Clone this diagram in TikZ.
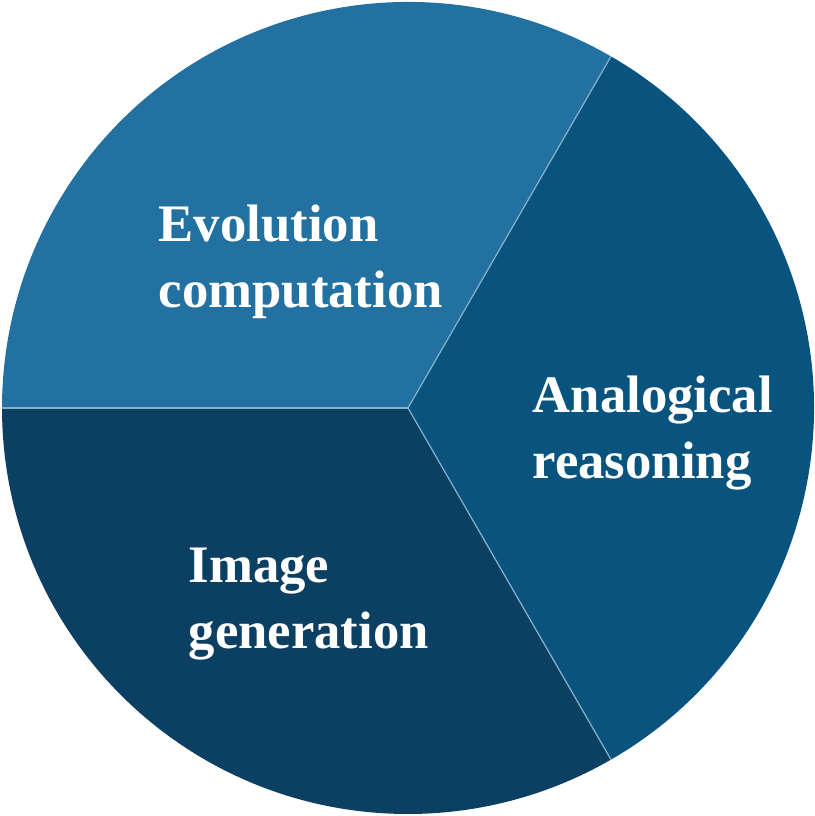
\documentclass[tikz,border=0pt]{standalone}
\usepackage{fontspec}
\setmainfont{Liberation Serif}
\usetikzlibrary{positioning,calc}
\definecolor{EvoBlue}{HTML}{2271A1}
\definecolor{AnaBlue}{HTML}{08547F}
\definecolor{ImgBlue}{HTML}{0C4062}

\begin{document}
\begin{tikzpicture}[
 divider/.style={draw=white!45!EvoBlue,line width=.35pt},
 lbl/.style={text=white,font=\fontsize{15}{18.5}\selectfont\bfseries,align=left,inner sep=0pt,anchor=base west}]
\useasboundingbox (0,0) rectangle (8.15,8.16);
\def\rad{4.06}
\coordinate (o) at (4.08,4.08);
\coordinate (a60) at ($(o)+(60:\rad)$);
\coordinate (a180) at ($(o)+(180:\rad)$);
\coordinate (a300) at ($(o)+(300:\rad)$);
% three equal slices
\fill[EvoBlue] (o) -- (a60) arc[start angle=60,end angle=180,radius=\rad] -- cycle;
\fill[ImgBlue] (o) -- (a180) arc[start angle=180,end angle=300,radius=\rad] -- cycle;
\fill[AnaBlue] (o) -- (a300) arc[start angle=-60,end angle=60,radius=\rad] -- cycle;
\draw[divider] (o) -- (a60);
\draw[divider] (o) -- (a180);
\draw[divider] (o) -- (a300);
\node[lbl] (evo) at (1.58,5.09) {Evolution\\computation};
\node[lbl] (ana) at (5.32,3.38) {Analogical\\reasoning};
\node[lbl] (img) at (1.88,1.68) {Image\\generation};
\end{tikzpicture}
\end{document}
